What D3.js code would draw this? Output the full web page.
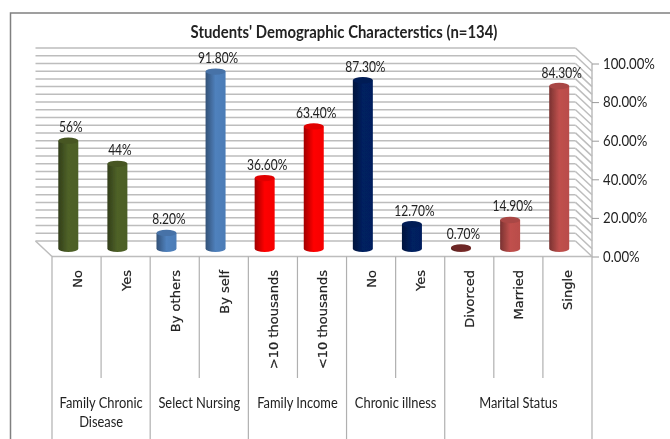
<!DOCTYPE html>
<html>
<head>
<meta charset="utf-8">
<script src="https://cdn.jsdelivr.net/npm/d3@7/dist/d3.min.js"></script>
<style>
  html, body { margin: 0; padding: 0; background: #fff; overflow: hidden; }
  svg { display: block; }
  text { font-family: Lato, "Noto Sans", sans-serif; fill: #222; }
</style>
</head>
<body>
<div id="chart"></div>
<script>
// values
const categories = ['No', 'Yes', 'By others', 'By self', '>10 thousands', '<10 thousands', 'No', 'Yes', 'Divorced', 'Married', 'Single'];
const values = [0.56, 0.44, 0.082, 0.918, 0.366, 0.634, 0.873, 0.127, 0.007, 0.149, 0.843];
const valueLabels = ['56%', '44%', '8.20%', '91.80%', '36.60%', '63.40%', '87.30%', '12.70%', '0.70%', '14.90%', '84.30%'];
const barColors = ['#4f6228', '#4f6228', '#4f81bd', '#4f81bd', '#ff0000', '#ff0000', '#002060', '#002060', '#7b2c2a', '#c0504d', '#c0504d'];
const groupNames = [['Family Chronic', 'Disease'], ['Select Nursing'], ['Family Income'], ['Chronic illness'], ['Marital Status']];
const groupSizes = [2, 2, 2, 2, 3];
const yTicks = [0, 0.2, 0.4, 0.6, 0.8, 1];
const gridValues = d3.range(0, 26).map(i => i * 0.04);

const width = 670, height = 439;
const left = 52, right = 592, floorY = 256.5, topY = 63.5;
const depthX = 16.5, depthY = 15.5;

const svg = d3.select('#chart').append('svg').attr('width', width).attr('height', height);
const defs = svg.append('defs');
const soft = defs.append('filter').attr('id', 'soft');
soft.append('feGaussianBlur').attr('stdDeviation', 0.35);

const x = d3.scaleBand().domain(d3.range(categories.length)).range([left, right]);
const y = d3.scaleLinear().domain([0, 1]).range([floorY, topY]);

const root = svg.append('g').attr('filter', 'url(#soft)');

// chart frame, runs off the picture on the right and bottom
root.append('path').attr('d', `M10.5,${height}V13H${width}`)
  .attr('fill', 'none').attr('stroke', '#808080').attr('stroke-width', 1.5);

// the original face is narrower than Lato, so text is squeezed sideways
root.append('text').attr('transform', 'translate(344,38) scale(0.875,1)')
  .attr('text-anchor', 'middle').attr('font-size', 17).attr('font-weight', 'bold')
  .text("Students' Demographic Characterstics (n=134)");

// back wall gridlines and side wall hatching
const wall = root.append('g').attr('fill', 'none').attr('stroke', '#bdbdbd').attr('stroke-width', 1.5);
wall.selectAll('line.grid').data(gridValues).enter().append('line').attr('class', 'grid')
  .attr('x1', left - depthX).attr('x2', right - depthX)
  .attr('y1', d => y(d) - depthY).attr('y2', d => y(d) - depthY);
wall.selectAll('line.side').data(gridValues).enter().append('line').attr('class', 'side')
  .attr('x1', right - depthX).attr('x2', right)
  .attr('y1', d => y(d) - depthY).attr('y2', d => y(d));
wall.append('line').attr('x1', left - depthX).attr('x2', left)
  .attr('y1', floorY - depthY).attr('y2', floorY);
wall.append('line').attr('x1', left).attr('x2', right).attr('y1', floorY).attr('y2', floorY);
wall.append('line').attr('x1', right).attr('x2', right).attr('y1', topY).attr('y2', floorY);

// value axis
const axis = root.append('g').attr('transform', `translate(${right},0)`)
  .call(d3.axisRight(y).tickValues(yTicks).tickFormat(d3.format('.2%')).tickSize(7).tickPadding(4));
axis.select('.domain').remove();
axis.selectAll('line').attr('stroke', '#9a9a9a');
axis.selectAll('text').attr('font-size', 15).attr('text-anchor', 'start')
  .attr('transform', 'scale(0.88,1)')
  .attr('x', 11 / 0.88);

// cylinders
const barW = 20, ry = 3.2;
const grad = defs.selectAll('linearGradient').data(barColors).enter().append('linearGradient')
  .attr('id', (d, i) => 'bar' + i);
grad.append('stop').attr('offset', '0%').attr('stop-color', d => d3.color(d).darker(1.3));
grad.append('stop').attr('offset', '50%').attr('stop-color', d => d);
grad.append('stop').attr('offset', '100%').attr('stop-color', d => d3.color(d).darker(0.1));

const barX = i => x(i) + x.bandwidth() / 2 - depthX / 2;
const baseY = floorY - depthY / 2;
const topOf = v => y(v) - depthY / 2;

const bar = root.selectAll('g.bar').data(values).enter().append('g').attr('class', 'bar');
bar.append('path')
  .attr('fill', (d, i) => `url(#bar${i})`)
  .attr('d', (d, i) => {
    const x0 = barX(i) - barW / 2, x1 = barX(i) + barW / 2;
    return `M${x0},${topOf(d)}L${x0},${baseY}A${barW / 2},${ry} 0 0 0 ${x1},${baseY}L${x1},${topOf(d)}Z`;
  });
bar.append('ellipse')
  .attr('cx', (d, i) => barX(i)).attr('cy', d => topOf(d))
  .attr('rx', barW / 2).attr('ry', ry)
  .attr('fill', (d, i) => d3.color(barColors[i]).darker(0.35));

// value labels
root.selectAll('text.value').data(valueLabels).enter().append('text')
  .attr('class', 'value')
  .attr('transform', (d, i) => `translate(${barX(i) + 2.5},${topOf(values[i]) - 8.5}) scale(0.8,1)`)
  .attr('text-anchor', 'middle').attr('font-size', 15)
  .text(d => d);

// category axis: short dividers inside a group, long ones between groups
const groupStarts = groupSizes.map((n, g) => d3.sum(groupSizes.slice(0, g)));
const edgeX = i => i < categories.length ? x(i) : right;
const dividers = d3.range(categories.length + 1);
root.selectAll('line.div').data(dividers).enter().append('line').attr('class', 'div')
  .attr('x1', edgeX).attr('x2', edgeX).attr('y1', floorY)
  .attr('y2', d => (groupStarts.includes(d) || d === categories.length) ? height : 378)
  .attr('stroke', '#b0b0b0').attr('stroke-width', 1.2);

root.selectAll('text.cat').data(categories).enter().append('text')
  .attr('class', 'cat')
  .attr('transform', (d, i) => `translate(${x(i) + x.bandwidth() / 2 + 5},270) rotate(-90)`)
  .attr('text-anchor', 'end')
  .style('font-family', '"DejaVu Sans", sans-serif').attr('font-size', 13)
  .attr('stroke', '#222').attr('stroke-width', 0.2)
  .text(d => d);

// group labels
const groupLabel = root.selectAll('text.group').data(groupNames).enter().append('text')
  .attr('class', 'group').attr('text-anchor', 'middle').attr('font-size', 15)
  .attr('transform', (d, g) => {
    const a = groupStarts[g], b = a + groupSizes[g];
    return `translate(${(edgeX(a) + edgeX(b)) / 2},408) scale(0.86,1)`;
  });
groupLabel.selectAll('tspan').data(d => d).enter().append('tspan')
  .attr('x', 0).attr('dy', (d, i) => i ? 19 : 0).text(d => d);
</script>
</body>
</html>
